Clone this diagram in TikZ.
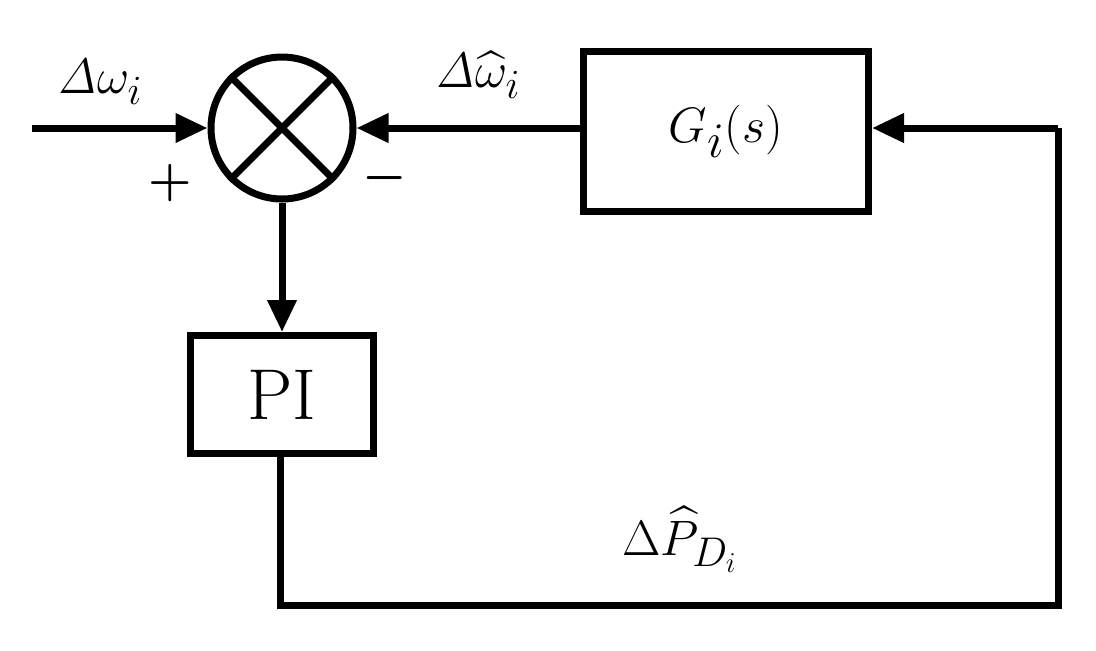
\documentclass[tikz,border=0pt]{standalone}
\usepackage{amsmath}
\usetikzlibrary{arrows.meta}
\begin{document}
\begin{tikzpicture}[x=0.5pt,y=-0.5pt,
  ln/.style={line width=3.5pt},
  arr/.style={ln,-{Triangle[length=16pt,width=14pt]}},
  blk/.style={draw,line width=3.5pt,inner sep=0pt,anchor=north west},
  lbl/.style={font=\fontsize{30}{34}\selectfont}]
\useasboundingbox (0,0) rectangle (1096,650);
\node[draw,circle,line width=3.5pt,minimum size=71pt,inner sep=0pt] (s) at (282,128) {};
\draw[ln] (s.45) -- (s.225) (s.135) -- (s.315);
\node[blk,minimum width=142.5pt,minimum height=80pt] (g) at (580,48) {};
\node[font=\fontsize{36}{40}\selectfont] (gt) at (g.center) {$G_i(s)$};
\node[blk,minimum width=91.5pt,minimum height=59pt] (pi) at (187,332) {};
\node[font=\fontsize{36}{40}\selectfont] (pt) at (pi.center) {PI};
\coordinate (in) at (32,128);
\coordinate (r1) at (1058,128);
\coordinate (r2) at (1058,605);
\coordinate (b1) at (280,605);
\draw[arr] (in) -- (s.west);
\draw[arr] (s.east -| g.west) -- (s.east);
\draw[arr] (s.south) -- (pi.north);
\draw[ln,line join=miter] (pi.south -| b1) -- (b1) -- (r2) -- (r1);
\draw[arr] (r1) -- (r1 -| g.east);
\node[lbl] (l1) at (100,82) {$\mathit{\Delta}\omega_i$};
\node[lbl] (l2) at (478,75) {$\mathit{\Delta}\widehat{\omega}_i$};
\node[lbl] (l3) at (680,540) {$\Delta\widehat{P}_{D_i}$};
\node[font=\fontsize{34}{38}\selectfont] (p) at (170,183) {$\boldsymbol{+}$};
\node[font=\fontsize{34}{38}\selectfont] (m) at (385,178) {$\boldsymbol{-}$};
\end{tikzpicture}
\end{document}
